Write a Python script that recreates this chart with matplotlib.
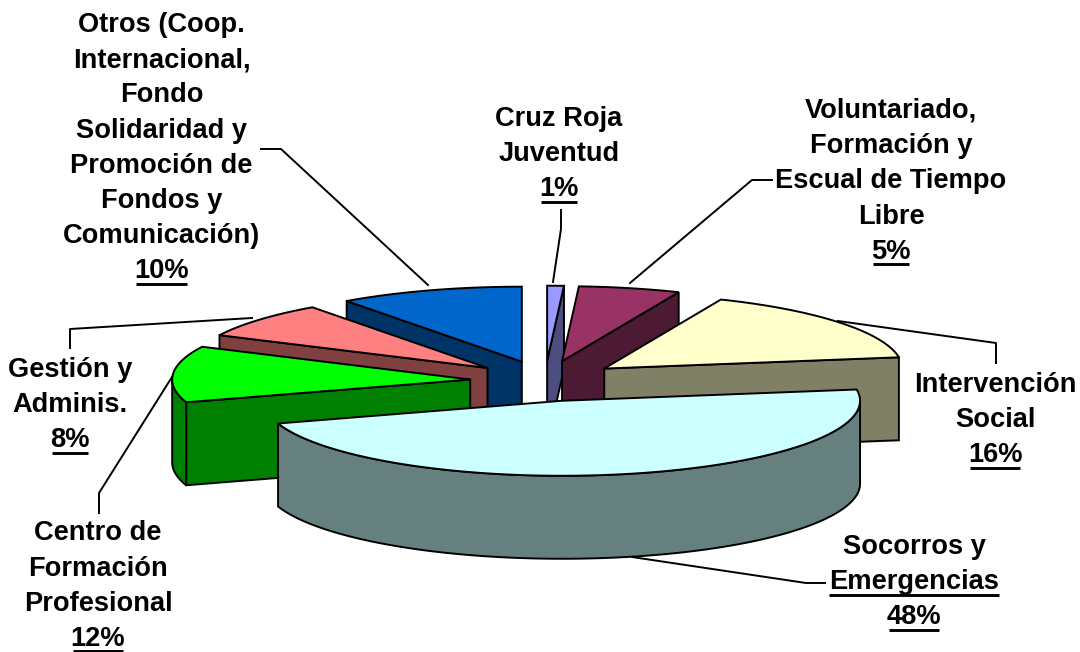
import numpy as np
import matplotlib
matplotlib.use("Agg")
import matplotlib.pyplot as plt
from matplotlib.patches import Polygon

# shares (printed labels are rounded)
names = ["Cruz Roja", "Voluntariado", "Intervencion", "Socorros", "Centro", "Gestion", "Otros"]
shares = [0.9, 5.5, 16.2, 47.5, 12.1, 7.8, 10.0]
top_colors = ["#9999FF", "#993366", "#FFFFCC", "#CCFFFF", "#00FF00", "#FF8080", "#0066CC"]
side_colors = ["#4D4D80", "#4D1A33", "#808066", "#668080", "#008000", "#804040", "#003366"]

label_lines = [
    ["Cruz Roja", "Juventud", "1%"],
    ["Voluntariado,", "Formación y", "Escual de Tiempo", "Libre", "5%"],
    ["Intervención", "Social", "16%"],
    ["Socorros y", "Emergencias", "48%"],
    ["Centro de", "Formación", "Profesional", "12%"],
    ["Gestión y", "Adminis.", "8%"],
    ["Otros (Coop.", "Internacional,", "Fondo", "Solidaridad y", "Promoción de", "Fondos y", "Comunicación)", "10%"],
]
label_x = [559, 891, 995, 914, 98, 70, 161.5]
label_base = [126, 118, 392, 554, 540.5, 377, 32]
leaders = [
    [(553, 282), (561, 229), (561, 210)],
    [(630, 283), (752, 180), (772, 180)],
    [(838, 321), (996, 343), (996, 363)],
    [(632, 557), (806, 583), (825, 583)],
    [(172, 377), (99, 493), (99, 513)],
    [(252, 318), (70, 329), (70, 348)],
    [(428, 285), (281, 149), (261, 149)],
]

CX, CY = 545, 381
R = 298          # px
R_Y = 75         # px
EXPLODE_X = 75   # px
EXPLODE_Y = 20.3 # px
DEPTH = 83       # px
LINE_H = 35.2    # px
LW = 1.4

plt.rcParams["font.family"] = ["Liberation Sans", "DejaVu Sans"]

fig = plt.figure(figsize=(10.8, 6.52), dpi=100)
ax = fig.add_axes([0, 0, 1, 1])
ax.set_xlim(0, 1080)
ax.set_ylim(652, 0)
ax.axis("off")


def rim(tip, a):
    return np.column_stack([tip[0] + R*np.sin(a), tip[1] - R_Y*np.cos(a)])


edges = np.cumsum([0] + shares) / sum(shares) * 2*np.pi
mids = (edges[:-1] + edges[1:]) / 2

# back slices first, the front slice goes over them
order = np.argsort(-np.cos(mids))
z = 2
for i in order:
    a0, a1 = edges[i], edges[i+1]
    m = mids[i]
    tip = np.array([CX + EXPLODE_X*np.sin(m), CY - EXPLODE_Y*np.cos(m)])
    down = np.array([0, DEPTH])
    arc = rim(tip, np.linspace(a0, a1, 120))

    # radial faces
    if np.sin(a1) > 0.001:
        p = rim(tip, np.array([a1]))[0]
        ax.add_patch(Polygon([tip, p, p+down, tip+down], fc=side_colors[i], ec="black", lw=LW, zorder=z))
    if np.sin(a0) < -0.001:
        p = rim(tip, np.array([a0]))[0]
        ax.add_patch(Polygon([tip, p, p+down, tip+down], fc=side_colors[i], ec="black", lw=LW, zorder=z))

    # outer wall, front half only
    lo, hi = max(a0, np.pi/2), min(a1, 3*np.pi/2)
    if hi > lo:
        front = rim(tip, np.linspace(lo, hi, 120))
        ax.add_patch(Polygon(np.vstack([front, (front+down)[::-1]]), fc=side_colors[i], ec="black", lw=LW, zorder=z))

    ax.add_patch(Polygon(np.vstack([tip, arc]), fc=top_colors[i], ec="black", lw=LW, zorder=z+0.5))
    z += 1

for path in leaders:
    xs, ys = zip(*path)
    ax.plot(xs, ys, color="black", lw=1.4, zorder=20)

# labels, one text per line so the underlines can follow the glyphs
fig.canvas.draw()
rend = fig.canvas.get_renderer()
for lines, x, y in zip(label_lines, label_x, label_base):
    for n, s in enumerate(lines):
        yy = y + n*LINE_H
        t = ax.text(x, yy, s, ha="center", va="baseline", fontsize=19.6, fontweight="bold", color="black", zorder=21)
        last = n == len(lines)-1
        if last or s == "Emergencias":
            b = t.get_window_extent(rend)
            inset = 2 if last else 0
            under = min(yy+5.5, 650.5)
            ax.plot([b.x0+inset, b.x1-inset], [under, under], color="black", lw=2.1, solid_capstyle="butt", zorder=21)

fig.savefig("out.png", dpi=100)
